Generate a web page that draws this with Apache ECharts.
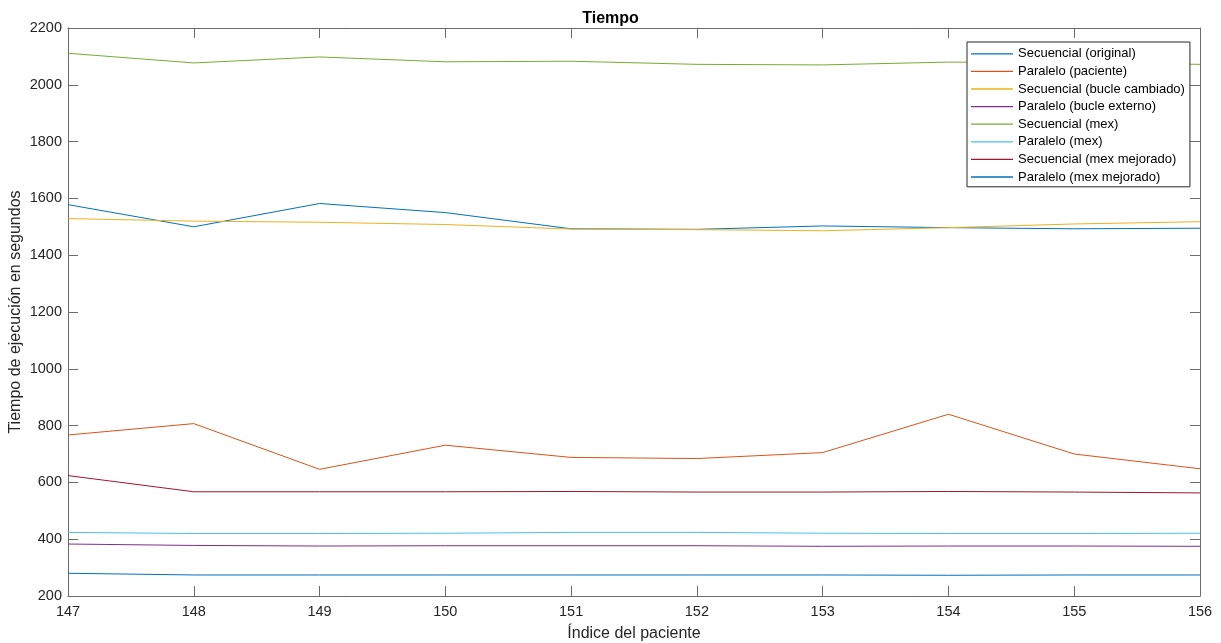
<!DOCTYPE html>
<html>
<head>
<meta charset="utf-8">
<script src="https://cdn.jsdelivr.net/npm/echarts@6/dist/echarts.min.js"></script>
<style>html,body{margin:0;padding:0;background:#fff}#c{width:1221px;height:643px}</style>
</head>
<body>
<div id="c"></div>
<script>
const indices = [147, 148, 149, 150, 151, 152, 153, 154, 155, 156];
const seriesNames = [
  'Secuencial (original)', 'Paralelo (paciente)', 'Secuencial (bucle cambiado)',
  'Paralelo (bucle externo)', 'Secuencial (mex)', 'Paralelo (mex)',
  'Secuencial (mex mejorado)', 'Paralelo (mex mejorado)'
];
const secOriginal = [1578, 1500, 1582, 1550, 1493, 1491, 1503, 1497, 1493, 1495];
const parPaciente = [767, 807, 646, 731, 688, 684, 705, 840, 700, 648];
const secBucle    = [1529, 1520, 1516, 1508, 1492, 1490, 1486, 1497, 1510, 1518];
const parBucleExt = [383, 378, 376, 377, 377, 377, 375, 376, 376, 375];
const secMex      = [2111, 2077, 2098, 2081, 2083, 2072, 2070, 2080, 2077, 2072];
const parMex      = [424, 420, 420, 421, 424, 424, 421, 420, 420, 421];
const secMexMej   = [624, 567, 567, 567, 568, 566, 566, 568, 566, 563];
const parMexMej   = [280, 274, 274, 274, 274, 274, 274, 273, 274, 274];
const yTicks = [200, 400, 600, 800, 1000, 1200, 1400, 1600, 1800, 2000, 2200];

const allValues = [secOriginal, parPaciente, secBucle, parBucleExt, secMex, parMex, secMexMej, parMexMej];
const colors = ['#0072BD', '#D95319', '#EDB120', '#7E2F8E', '#77AC30', '#4DBEEE', '#A2142F', '#0072BD'];
const font = '"Liberation Sans", Arial, sans-serif';
const axisCol = '#6b6b6b';

const series = allValues.map((vals, i) => ({
  name: seriesNames[i],
  type: 'line',
  xAxisIndex: 0, yAxisIndex: 0,
  data: vals.map((v, j) => [indices[j], v]),
  showSymbol: false,
  symbol: 'none',
  lineStyle: { color: colors[i], width: 1 },
  itemStyle: { color: colors[i] },
  animation: false
}));

const chart = echarts.init(document.getElementById('c'), null, { renderer: 'canvas' });
chart.setOption({
  animation: false,
  backgroundColor: '#fff',
  title: {
    text: 'Tiempo', left: 'center', top: 6,
    textStyle: { fontFamily: font, fontSize: 16, fontWeight: 'bold', color: '#000' }
  },
  grid: { left: 68, right: 21, top: 28, bottom: 47, containLabel: false, outerBoundsMode: 'none' },
  legend: {
    data: seriesNames,
    orient: 'vertical',
    left: 967, top: 42,
    icon: 'rect', itemWidth: 42, itemHeight: 1.3, itemGap: 0,
    padding: [3, 5, 1, 4],
    borderColor: '#262626', borderWidth: 1,
    backgroundColor: '#fff',
    textStyle: { fontFamily: font, fontSize: 13, color: '#000', lineHeight: 17.6 }
  },
  xAxis: [{
    type: 'value', min: 147, max: 156, interval: 1,
    name: 'Índice del paciente', nameLocation: 'middle', nameGap: 30, nameMoveOverlap: false,
    nameTextStyle: { fontFamily: font, fontSize: 16, color: '#262626' },
    axisLine: { show: true, lineStyle: { color: axisCol, width: 1 } },
    axisTick: { show: true, inside: true, length: 10, lineStyle: { color: axisCol } },
    axisLabel: { fontFamily: font, fontSize: 14.5, color: '#262626', margin: 8 },
    splitLine: { show: false }
  }, {
    type: 'value', min: 147, max: 156, interval: 1, position: 'top',
    axisLine: { show: true, onZero: false, lineStyle: { color: axisCol, width: 1 } },
    axisTick: { show: true, inside: true, length: 10, lineStyle: { color: axisCol } },
    axisLabel: { show: false }, splitLine: { show: false }
  }],
  yAxis: [{
    type: 'value', min: 200, max: 2200, interval: 200,
    name: 'Tiempo de ejecución en segundos', nameLocation: 'middle', nameGap: 44, nameMoveOverlap: false,
    nameTextStyle: { fontFamily: font, fontSize: 16, color: '#262626' },
    axisLine: { show: true, lineStyle: { color: axisCol, width: 1 } },
    axisTick: { show: true, inside: true, length: 10, lineStyle: { color: axisCol } },
    axisLabel: { fontFamily: font, fontSize: 14.5, color: '#262626', margin: 6,
      formatter: v => yTicks.includes(v) ? String(v) : '' },
    splitLine: { show: false }
  }, {
    type: 'value', min: 200, max: 2200, interval: 200, position: 'right',
    axisLine: { show: true, onZero: false, lineStyle: { color: axisCol, width: 1 } },
    axisTick: { show: true, inside: true, length: 10, lineStyle: { color: axisCol } },
    axisLabel: { show: false }, splitLine: { show: false }
  }],
  series: series
});
</script>
</body>
</html>
